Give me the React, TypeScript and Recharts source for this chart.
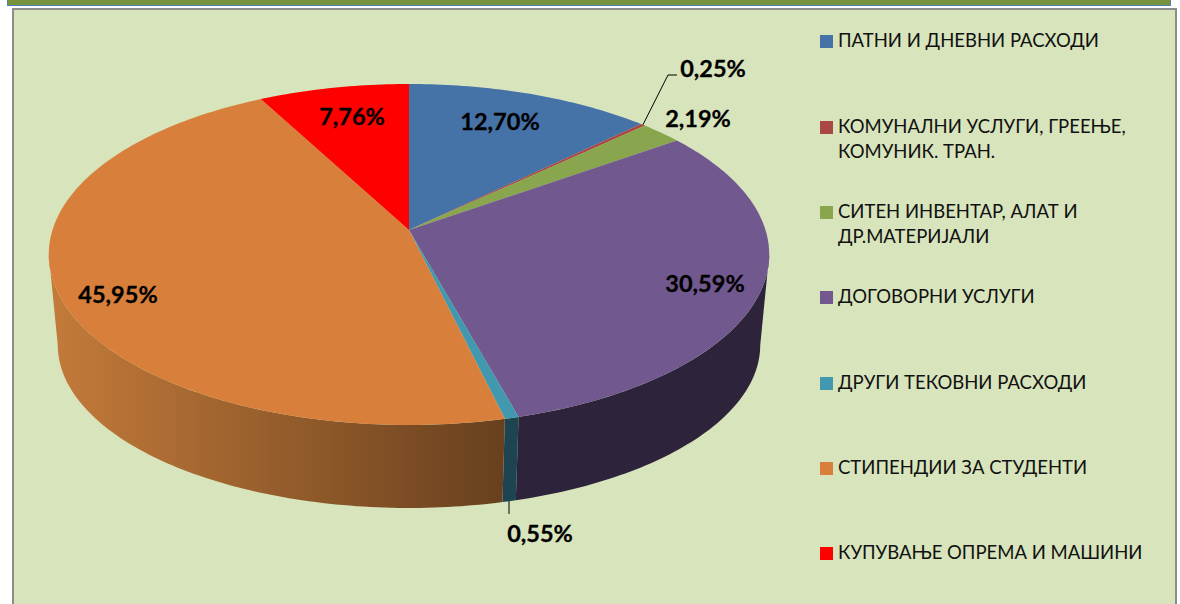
import { Legend, Pie, PieChart } from "recharts"

const categories = [
  "ПАТНИ И ДНЕВНИ РАСХОДИ",
  "КОМУНАЛНИ УСЛУГИ, ГРЕЕЊЕ,\nКОМУНИК. ТРАН.",
  "СИТЕН ИНВЕНТАР, АЛАТ И\nДР.МАТЕРИЈАЛИ",
  "ДОГОВОРНИ УСЛУГИ",
  "ДРУГИ ТЕКОВНИ РАСХОДИ",
  "СТИПЕНДИИ ЗА СТУДЕНТИ",
  "КУПУВАЊЕ ОПРЕМА И МАШИНИ",
]
const shares = [12.7, 0.25, 2.19, 30.59, 0.55, 45.95, 7.76]
const topColors = ["#4572a7", "#aa4643", "#89a54e", "#71588f", "#4198af", "#d8803b", "#ff0000"]
const wallColors = ["#2a4466", "#662a28", "#52632f", "#2d233a", "#1d4450", "url(#orangeWall)", "#990000"]

// label centres, kept apart from the data
const labelSpots = [
  [500, 121],
  [713, 68],
  [698, 118],
  [705, 283],
  [540, 533],
  [118, 294],
  [352, 116],
]
const legendTops = [35, 121, 206, 291, 377, 462, 547]

const data = categories.map((name, i) => ({ name, value: shares[i], fill: topColors[i], wall: wallColors[i] }))

const FONT = "Lato, 'Noto Sans', sans-serif"
const CX = 409
const CY = 230
const RADIUS = 356.5
const TILT = -0.1436

// perspective view of the pie: theta is clockwise from 12 o'clock
function rim(theta: number, lower = false) {
  const t = (theta * Math.PI) / 180
  const x = Math.sin(t)
  const y = -Math.cos(t)
  const d = 1 + TILT * y
  if (lower) return [CX + (RADIUS * 0.975 * x) / d, 321.6 + (159.6 * y) / d]
  return [CX + (RADIUS * x) / d, CY + (167 * y) / d]
}

function arc(a: number, b: number, lower = false) {
  const n = Math.max(2, Math.ceil(Math.abs(b - a)))
  const pts: number[][] = []
  for (let i = 0; i <= n; i++) pts.push(rim(a + ((b - a) * i) / n, lower))
  return pts
}

const toPath = (pts: number[][]) => pts.map((p, i) => `${i ? "L" : "M"}${p[0].toFixed(2)} ${p[1].toFixed(2)}`).join(" ")

function Slice(props: any) {
  const a = 90 - props.startAngle
  const b = 90 - props.endAngle
  const top = toPath([[CX, CY], ...arc(a, b)]) + " Z"
  const from = Math.max(a, 98.3)
  const to = Math.min(b, 261.7)
  return (
    <g>
      {to > from && (
        <path
          d={toPath([...arc(from, to), ...arc(to, from, true)]) + " Z"}
          fill={props.wall ?? props.payload?.wall}
        />
      )}
      <path d={top} fill={props.fill} />
    </g>
  )
}

function SliceLabel(props: any) {
  const i = props.index
  const [x, y] = labelSpots[i]
  const theta = 90 - props.midAngle
  const start = i === 4 ? rim(theta, true) : rim(theta)
  return (
    <g>
      {i === 1 && <path d={`M${start[0]} ${start[1]} L668 75 L677 75`} fill="none" stroke="#000" strokeWidth={1} />}
      {i === 4 && <path d={`M509 ${start[1]} L509 514`} fill="none" stroke="#000" strokeWidth={1} />}
      <text
        x={x}
        y={y}
        textAnchor="middle"
        dominantBaseline="central"
        fontFamily={FONT}
        fontSize={23.5}
        fontWeight={700}
        fill="#000"
        stroke="#000"
        strokeWidth={0.3}
      >
        {shares[i].toFixed(2).replace(".", ",")}%
      </text>
    </g>
  )
}

function LegendBlock() {
  return (
    <div>
      {categories.map((name, i) => (
        <div key={name} style={{ position: "absolute", left: 820, top: legendTops[i] }}>
          <div style={{ position: "absolute", left: 0, top: 0, width: 13, height: 13, background: topColors[i] }} />
          <div
            style={{
              position: "absolute",
              left: 18,
              top: -7,
              width: 340,
              whiteSpace: "pre-line",
              fontFamily: FONT,
              fontSize: 18.5,
              lineHeight: "25px",
              color: "#111",
            }}
          >
            {name}
          </div>
        </div>
      ))}
    </div>
  )
}

export default function App() {
  return (
    <div style={{ position: "fixed", left: 0, top: 0, width: 1180, height: 604, background: "#fff", overflow: "hidden" }}>
      <div
        style={{
          position: "absolute",
          left: 7,
          top: 0,
          width: 1162,
          height: 5,
          background: "#76923c",
          borderLeft: "1px solid #4f81bd",
          borderRight: "1px solid #4f81bd",
          borderBottom: "1px solid #4f81bd",
        }}
      />
      <div
        style={{
          position: "absolute",
          left: 12,
          top: 8,
          width: 1161,
          height: 600,
          background: "#d8e4bc",
          border: "2px solid #8c8c8c",
        }}
      />
      <div style={{ position: "absolute", left: 0, top: 0 }}>
        <PieChart width={1180} height={604} margin={{ top: 0, right: 0, bottom: 0, left: 0 }}>
          <defs>
            <linearGradient id="orangeWall" gradientUnits="userSpaceOnUse" x1="48" y1="0" x2="505" y2="0">
              <stop offset="0%" stopColor="#c47b3a" />
              <stop offset="100%" stopColor="#68401e" />
            </linearGradient>
          </defs>
          <Legend content={<LegendBlock />} wrapperStyle={{ position: "absolute", left: 0, top: 0, width: 0, height: 0 }} />
          <Pie
            data={data}
            dataKey="value"
            nameKey="name"
            cx={CX}
            cy={CY}
            outerRadius={RADIUS}
            startAngle={90}
            endAngle={-270}
            stroke="none"
            shape={Slice}
            inactiveShape={Slice}
            activeShape={Slice}
            label={SliceLabel}
            labelLine={false}
            isAnimationActive={false}
          />
        </PieChart>
      </div>
    </div>
  )
}
